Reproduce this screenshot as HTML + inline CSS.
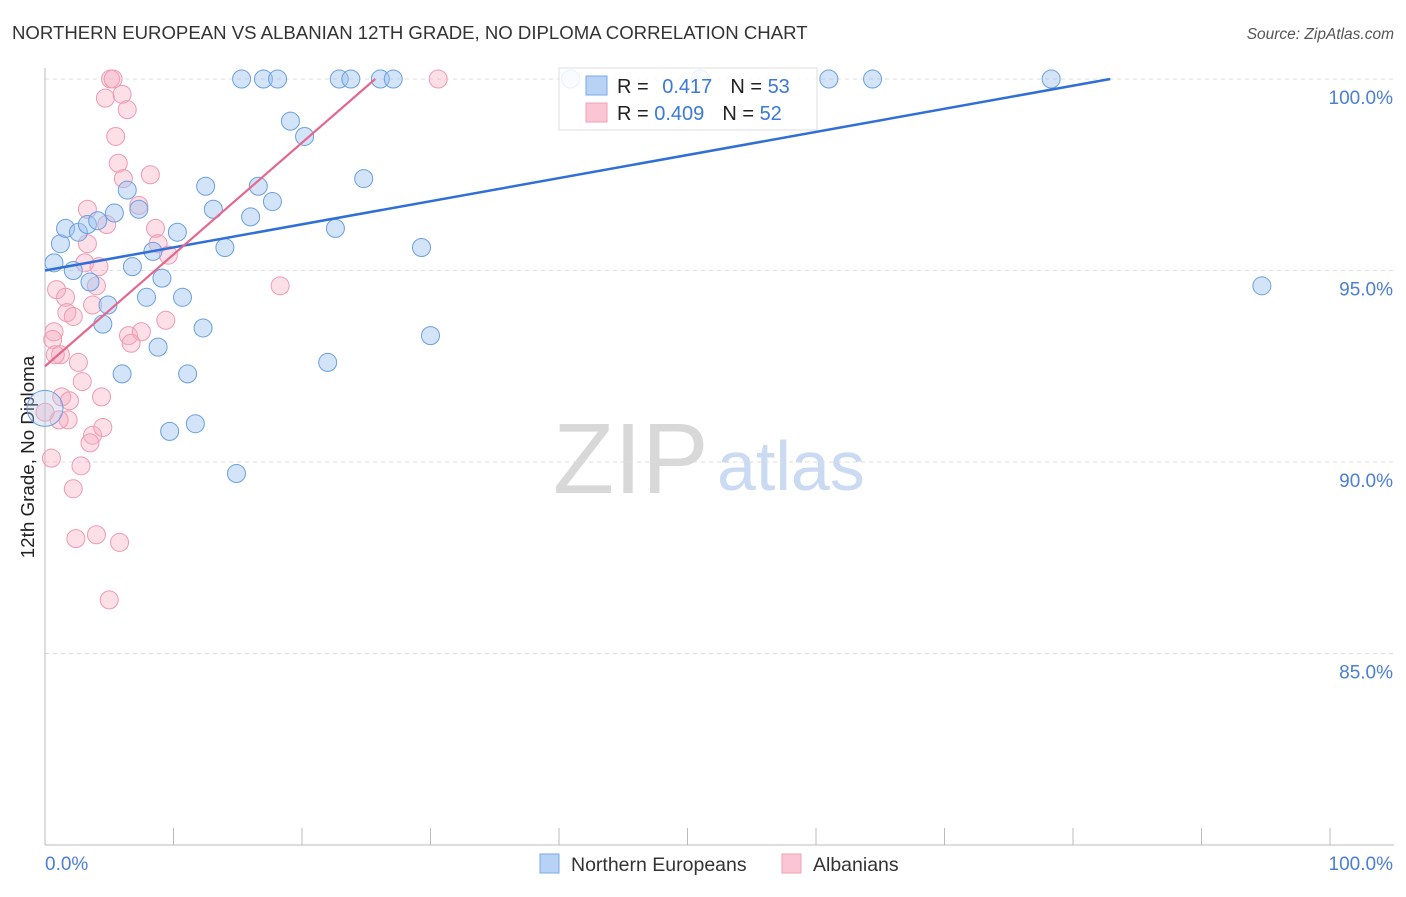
<!DOCTYPE html>
<html><head><meta charset="utf-8"><style>
body{margin:0;background:#fff;font-family:"Liberation Sans",sans-serif}
svg text{font-family:"Liberation Sans",sans-serif}
</style></head><body>
<svg id="chart" width="1406" height="892" viewBox="0 0 1406 892">
<text x="12" y="39" font-size="18.6" fill="#333">NORTHERN EUROPEAN VS ALBANIAN 12TH GRADE, NO DIPLOMA CORRELATION CHART</text>
<text x="1394" y="39" font-size="15.5" fill="#555" font-style="italic" text-anchor="end">Source: ZipAtlas.com</text>
<g>
<text x="553" y="493" font-size="100" fill="#d8d8d8" font-family="Liberation Serif,serif">ZIP</text>
<text x="717" y="490" font-size="70" fill="#c9daf2">atlas</text>
</g>
<g id="grid"></g>
<line x1="45" y1="68" x2="45" y2="845" stroke="#bbb"/>
<line x1="45" y1="845" x2="1394" y2="845" stroke="#bbb"/>
<g id="xticks"></g>
<g id="ylabels"></g>
<text x="45" y="870" font-size="19" fill="#4a7fd4">0.0%</text>
<text x="1393" y="870" font-size="19" fill="#4a7fd4" text-anchor="end">100.0%</text>
<text transform="translate(34,457) rotate(-90)" font-size="18.8" fill="#222" text-anchor="middle">12th Grade, No Diploma</text>
<g id="pink"></g>
<g id="blue"></g>
<g id="lines"></g>
<g>
<rect x="559" y="68" width="258" height="62" fill="rgba(255,255,255,0.85)" stroke="#ddd"/>
<rect x="586" y="76" width="21" height="19" fill="#b8d2f5" stroke="#7aaae8"/>
<rect x="586" y="103" width="21" height="19" fill="#fbc6d4" stroke="#f0a0b6"/>
<text x="617" y="93" font-size="20" fill="#222">R = <tspan fill="#3b78d8" dx="8">0.417</tspan><tspan dx="18">N = </tspan><tspan fill="#3b78d8">53</tspan></text>
<text x="617" y="120" font-size="20" fill="#222">R = <tspan fill="#3b78d8">0.409</tspan><tspan dx="18">N = </tspan><tspan fill="#3b78d8">52</tspan></text>
</g>
<g>
<rect x="540" y="854" width="19" height="19" fill="#b8d2f5" stroke="#7aaae8"/>
<text x="571" y="871" font-size="19.5" fill="#333">Northern Europeans</text>
<rect x="782" y="854" width="19" height="19" fill="#fbc6d4" stroke="#f0a0b6"/>
<text x="813" y="871" font-size="19.5" fill="#333">Albanians</text>
</g>
</svg>
<script>
const yTicks=[100,95,90,85];
const yTickLabels=["100.0%","95.0%","90.0%","85.0%"];
const xTicks=[0,10,20,30,40,50,60,70,80,90,100];
const blueX=[0.7,1.2,1.6,2.6,2.2,3.3,4.1,3.5,5.4,6.4,6.8,7.3,4.9,4.5,7.9,8.4,9.1,8.8,10.3,10.7,6.0,11.1,12.3,12.5,13.1,14.0,9.7,11.7,14.9,16.0,16.6,17.7,19.1,20.2,15.3,17.0,18.1,22.9,23.8,26.1,27.1,22.6,24.8,22.0,29.3,30.0,40.9,51.0,61.0,64.4,78.3,94.7,0];
const blueY=[95.2,95.7,96.1,96.0,95.0,96.2,96.3,94.7,96.5,97.1,95.1,96.6,94.1,93.6,94.3,95.5,94.8,93.0,96.0,94.3,92.3,92.3,93.5,97.2,96.6,95.6,90.8,91.0,89.7,96.4,97.2,96.8,98.9,98.5,100,100,100,100,100,100,100,96.1,97.4,92.6,95.6,93.3,100,100,100,100,100,94.6,91.4];
const blueSize=[1,1,1,1,1,1,1,1,1,1,1,1,1,1,1,1,1,1,1,1,1,1,1,1,1,1,1,1,1,1,1,1,1,1,1,1,1,1,1,1,1,1,1,1,1,1,1,1,1,1,1,1,2];
const pinkX=[5.1,5.3,4.7,6.0,6.4,5.5,5.7,6.1,8.2,3.3,7.3,4.8,8.6,3.3,8.8,9.6,3.1,4.2,0.9,1.6,4.0,1.7,2.2,3.7,0.7,0.6,1.2,2.6,9.4,6.5,7.5,6.7,2.9,1.3,1.9,4.4,1.8,1.1,3.7,3.5,4.5,0.5,2.8,2.2,2.4,4.0,5.8,5.0,18.3,30.6,0,0.8];
const pinkY=[100,100,99.5,99.6,99.2,98.5,97.8,97.4,97.5,96.6,96.7,96.2,96.1,95.7,95.7,95.4,95.2,95.1,94.5,94.3,94.6,93.9,93.8,94.1,93.4,93.2,92.8,92.6,93.7,93.3,93.4,93.1,92.1,91.7,91.6,91.7,91.1,91.1,90.7,90.5,90.9,90.1,89.9,89.3,88.0,88.1,87.9,86.4,94.6,100,91.3,92.8];
const blueTrendX=[0,82.9], blueTrendY=[95.0,100];
const pinkTrendX=[0,25.7], pinkTrendY=[92.5,100];
const NS="http://www.w3.org/2000/svg";
const sx=v=>45+v*12.85, sy=v=>79+(100-v)*38.3;
function mk(tag,parent,attrs){const e=document.createElementNS(NS,tag);for(const k in attrs)e.setAttribute(k,attrs[k]);document.getElementById(parent).appendChild(e);return e;}
yTicks.forEach((t,i)=>{
 const l=mk('line','grid',{x1:45,x2:1394,y1:sy(t),y2:sy(t),stroke:'#ddd','stroke-dasharray':'4,4'});
 
 
 const tx=mk('text','ylabels',{x:1393,y:sy(t)+25,'font-size':19,fill:'#4a7fd4','text-anchor':'end'});
 tx.textContent=yTickLabels[i];
 
 
});
xTicks.forEach(t=>{
 const l=mk('line','xticks',{x1:sx(t),x2:sx(t),y1:828,y2:845,stroke:'#bbb'});
 
 
});
pinkX.forEach((x,i)=>{
 const c=mk('circle','pink',{cx:sx(x),cy:sy(pinkY[i]),r:9,fill:'rgba(246,170,192,0.38)',stroke:'#ee9ab2','stroke-width':1});
 
 
});
blueX.forEach((x,i)=>{
 const c=mk('circle','blue',{cx:sx(x),cy:sy(blueY[i]),r:9*blueSize[i],fill:blueSize[i]>1?'rgba(180,200,235,0.35)':'rgba(160,196,240,0.45)',stroke:'#6a9fe0','stroke-width':1});
 
 
});
const bl=mk('line','lines',{x1:sx(blueTrendX[0]),y1:sy(blueTrendY[0]),x2:sx(blueTrendX[1]),y2:sy(blueTrendY[1]),stroke:'#2f6fd6','stroke-width':2.5});


const pl=mk('line','lines',{x1:sx(pinkTrendX[0]),y1:sy(pinkTrendY[0]),x2:sx(pinkTrendX[1]),y2:sy(pinkTrendY[1]),stroke:'#e4678e','stroke-width':2.2});


</script>
</body></html>
